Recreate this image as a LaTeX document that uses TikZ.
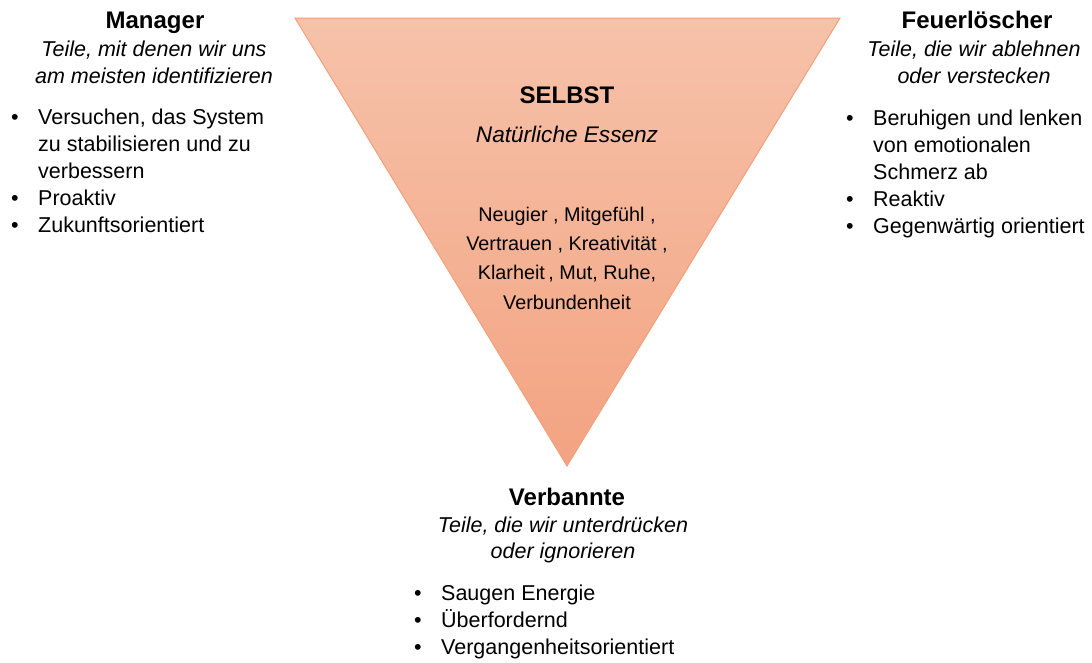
\documentclass[tikz,border=0pt]{standalone}
\usepackage{fontspec}
\setmainfont{Liberation Sans}
\usetikzlibrary{calc}

% stacked centred lines, baseline on the first line
\newcommand\centerrows[1]{\begin{tabular}[t]{@{}c@{}}#1\end{tabular}}
% bullet list: bullet column plus text column
\newcommand\bulletrows[1]{\begin{tabular}[t]{@{}p{27pt}@{}l@{}}#1\end{tabular}}

\definecolor{selbsttop}{HTML}{F6C2AA}
\definecolor{selbstbottom}{HTML}{F3A381}
\definecolor{selbstedge}{HTML}{F2A07C}

\begin{document}
\begin{tikzpicture}[x=1pt,y=-1pt,
  parttitle/.style={font=\fontsize{24}{28}\selectfont\bfseries, anchor=base, inner sep=0pt},
  partsub/.style={font=\fontsize{21.5}{27}\selectfont\itshape, anchor=base, inner sep=0pt},
  partlist/.style={font=\fontsize{21.5}{27}\selectfont, anchor=base west, inner sep=0pt},
  selbstlist/.style={font=\fontsize{19.8}{29.2}\selectfont, anchor=base, inner sep=0pt}]

% page frame
\path[use as bounding box] (0,0) rectangle (1092,662);

% inverted triangle of the Self
\coordinate (tl) at (295,18);
\coordinate (tr) at (840,18);
\coordinate (apex) at (567,466);
\shade[top color=selbsttop, bottom color=selbstbottom] (tl) -- (tr) -- (apex) -- cycle;
\draw[selbstedge, line width=1pt, line join=miter] (tl) -- (tr) -- (apex) -- cycle;

\node[parttitle] (selbst) at (567,103.5) {SELBST};
\node[partsub, font=\fontsize{22.6}{27}\selectfont\itshape] (essenz) at (567,142) {Natürliche Essenz};
\node[selbstlist] (qualitaeten) at (567,221.5) {\centerrows{Neugier , Mitgefühl ,\\ Vertrauen , Kreativität ,\\ Klarheit\,, Mut, Ruhe,\\ Verbundenheit}};

% Manager
\node[parttitle] (manager) at (155,28.5) {Manager};
\node[partsub] (managersub) at (154,56.5) {\centerrows{Teile, mit denen wir uns\\ am meisten identifizieren}};
\node[partlist] (managerlist) at (11,124) {\bulletrows{• & Versuchen, das System\\ & zu stabilisieren und zu\\ & verbessern\\ • & Proaktiv\\ • & Zukunftsorientiert}};

% Feuerloescher
\node[parttitle] (feuer) at (977,28.5) {Feuerlöscher};
\node[partsub] (feuersub) at (974,56.5) {\centerrows{Teile, die wir ablehnen\\ oder verstecken}};
\node[partlist] (feuerlist) at (846,125) {\bulletrows{• & Beruhigen und lenken\\ & von emotionalen\\ & Schmerz ab\\ • & Reaktiv\\ • & Gegenwärtig orientiert}};

% Verbannte
\node[parttitle] (verbannte) at (567,505.5) {Verbannte};
\node[partsub, font=\fontsize{21.5}{26}\selectfont\itshape] (verbanntesub) at (563,532.5) {\centerrows{Teile, die wir unterdrücken\\ oder ignorieren}};
\node[partlist] (verbanntelist) at (414,600.5) {\bulletrows{• & Saugen Energie\\ • & Überfordernd\\ • & Vergangenheitsorientiert}};
\end{tikzpicture}
\end{document}
